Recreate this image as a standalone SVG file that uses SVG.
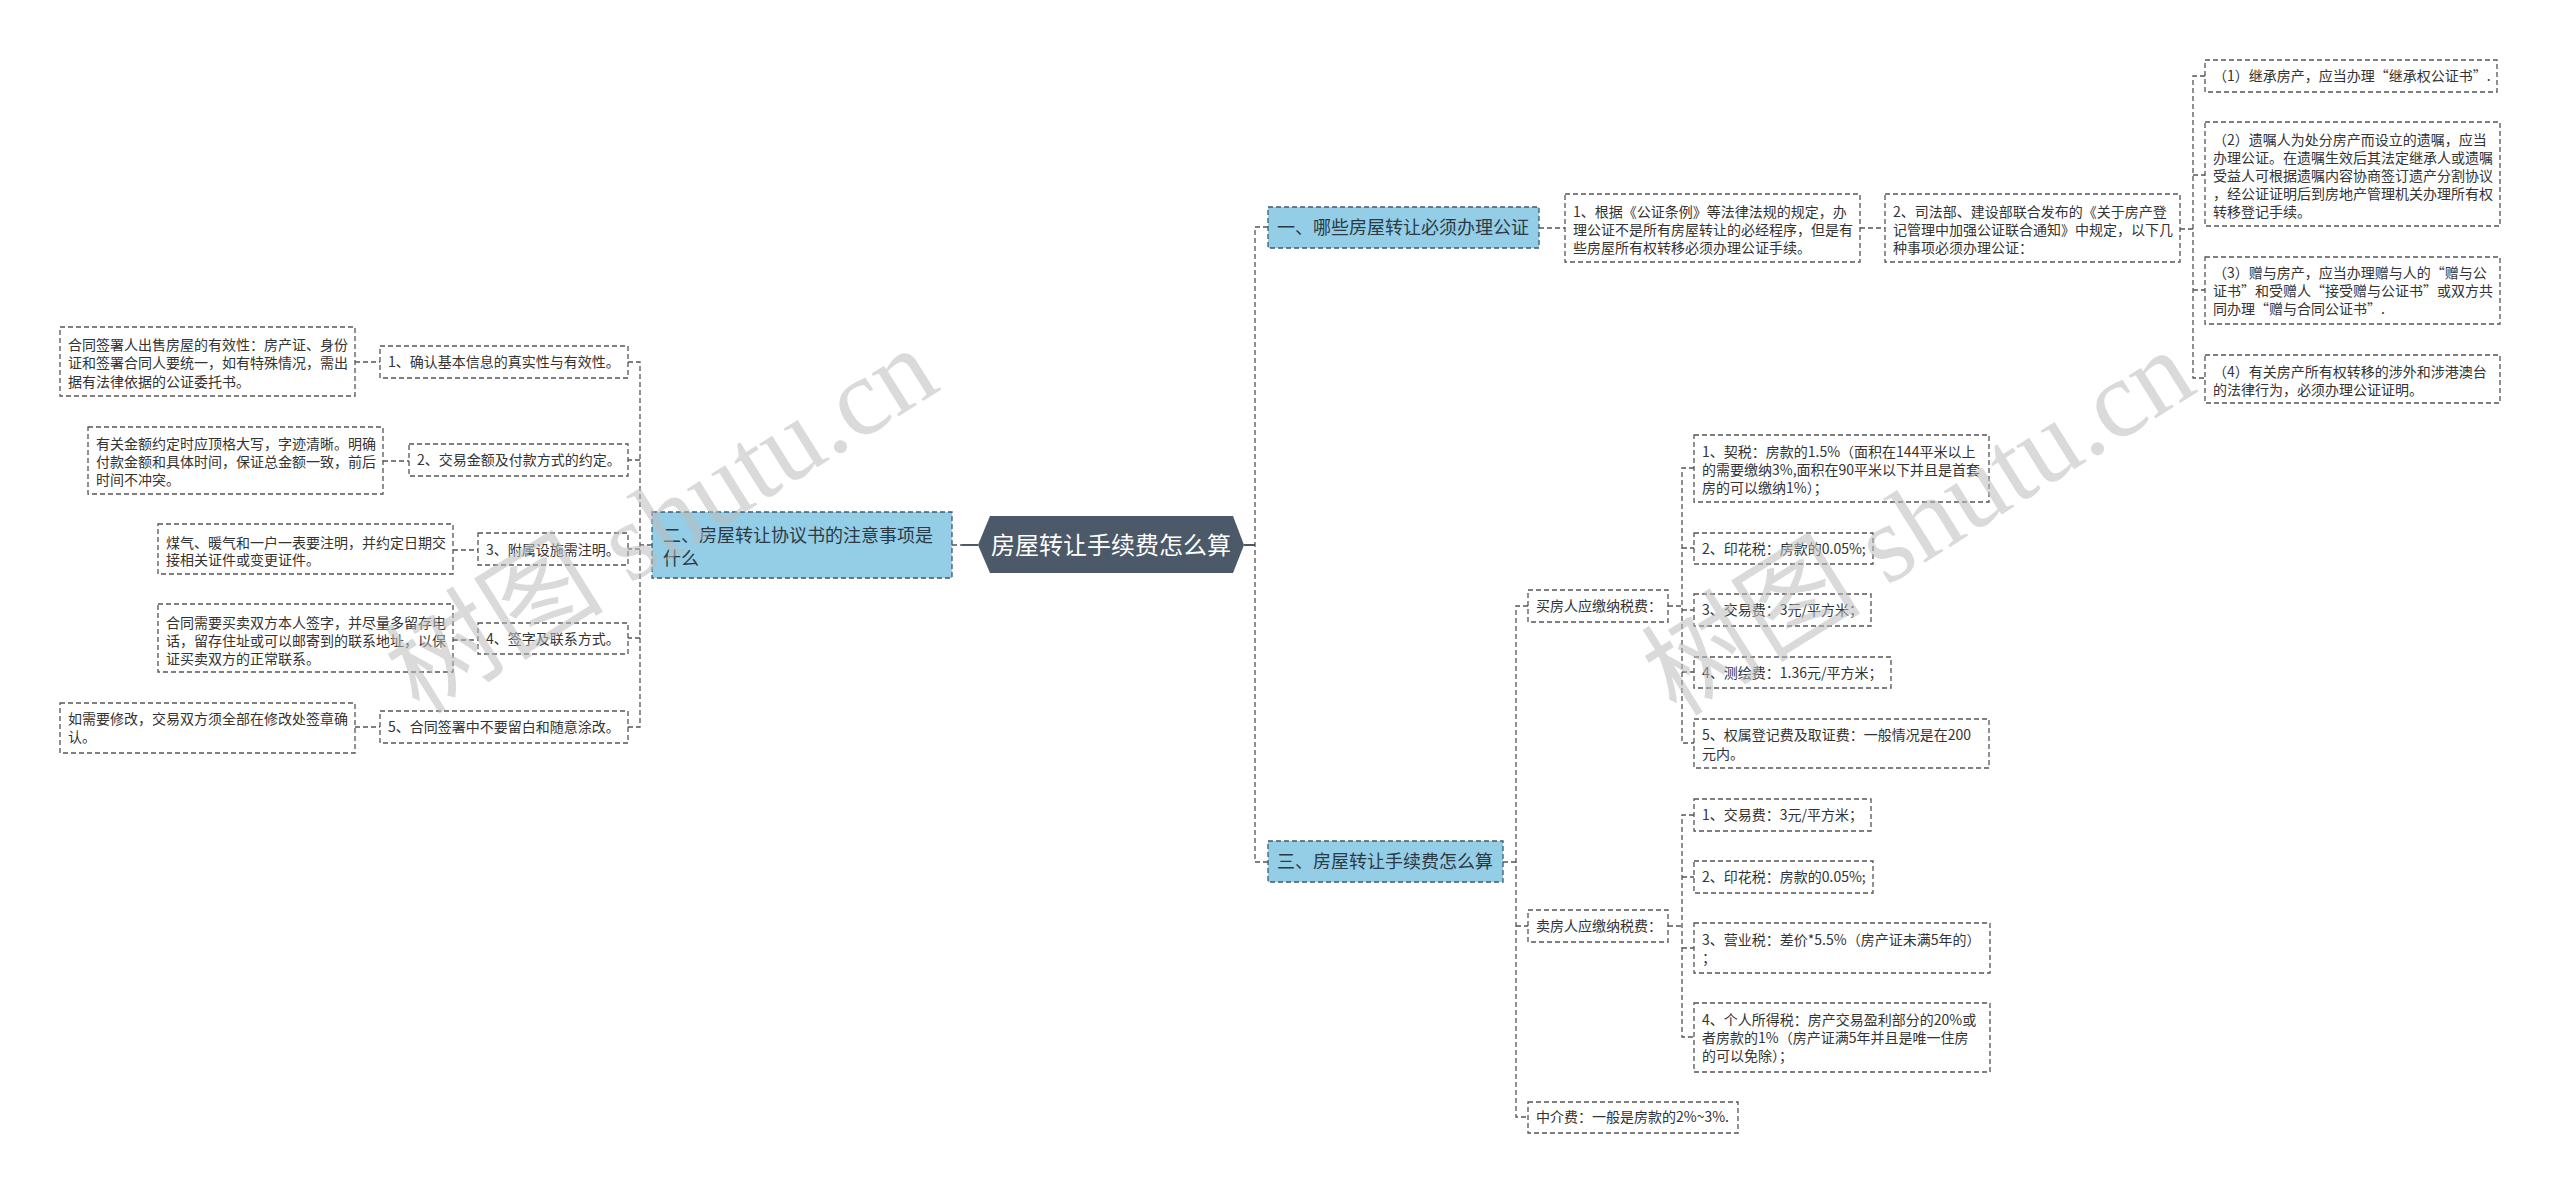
<svg xmlns="http://www.w3.org/2000/svg" width="2560" height="1194" viewBox="0 0 2560 1194">
<style>
.bx{fill:#fff;stroke:#555;stroke-width:1.3;stroke-dasharray:5 3}
.bl{fill:#94cde6;stroke:#3e5a6c;stroke-width:1.3;stroke-dasharray:5 3}
.t{font-family:"Noto Sans CJK SC","Microsoft YaHei",sans-serif;font-size:14px;fill:#333}
.tb{font-family:"Noto Sans CJK SC","Microsoft YaHei",sans-serif;font-size:18px;fill:#2b3a45}
.tr{font-family:"Noto Sans CJK SC","Microsoft YaHei",sans-serif;font-size:24px;fill:#fff}
.c{fill:none;stroke:#555;stroke-width:1.3;stroke-dasharray:5 3}
.cs{fill:none;stroke:#4b5968;stroke-width:2}
.wm{font-size:110px;fill:#bdbdbd;opacity:0.55}
</style>
<rect width="2560" height="1194" fill="#fff"/>
<g id="connectors">
  <path class="c" d="M952,545 H962"/>
  <path class="cs" d="M962,545 H978"/>
  <path class="cs" d="M1244,545 H1255"/>
  <path class="c" d="M1268,227 H1255 V862 H1268"/>
  <path class="c" d="M1539,228 H1565"/>
  <path class="c" d="M1860,228 H1885"/>
  <path class="c" d="M2180,229 H2193"/>
  <path class="c" d="M2205,76 H2193 V378 H2205 M2193,175 H2205 M2193,290 H2205"/>
  <path class="c" d="M1503,862 H1516"/>
  <path class="c" d="M1528,606 H1516 V1117 H1528 M1516,926 H1528"/>
  <path class="c" d="M1668,606 H1682"/>
  <path class="c" d="M1694,468 H1682 V743 H1694 M1682,548 H1694 M1682,610 H1694 M1682,672 H1694"/>
  <path class="c" d="M1668,926 H1682"/>
  <path class="c" d="M1694,815 H1682 V1037 H1694 M1682,877 H1694 M1682,948 H1694"/>
  <path class="c" d="M652,545 H640"/>
  <path class="c" d="M628,362 H640 V727 H628 M640,460 H628 M640,549 H628 M640,638 H628"/>
  <path class="c" d="M355,362 H380"/>
  <path class="c" d="M383,461 H409"/>
  <path class="c" d="M453,550 H478"/>
  <path class="c" d="M453,640 H478"/>
  <path class="c" d="M355,727 H380"/>
</g>
<g id="root">
  <polygon points="978,545 990,516 1233,516 1244,545 1233,573 990,573" fill="#4b5968"/>
  <text class="tr" x="1111" y="553.5" text-anchor="middle">房屋转让手续费怎么算</text>
</g>
<g id="n2">
  <rect class="bl" x="652" y="512" width="300" height="66"/>
  <text class="tb"><tspan x="663" y="541.5">二、房屋转让协议书的注意事项是</tspan><tspan x="663" y="564.5">什么</tspan></text>
</g>
<g id="a1">
  <rect class="bx" x="380" y="346" width="248" height="32"/>
  <text class="t" x="388" y="367">1、确认基本信息的真实性与有效性。</text>
</g>
<g id="a1d">
  <rect class="bx" x="60" y="327" width="295" height="69"/>
  <text class="t"><tspan x="68" y="350">合同签署人出售房屋的有效性：房产证、身份</tspan><tspan x="68" y="368.3">证和签署合同人要统一，如有特殊情况，需出</tspan><tspan x="68" y="386.7">据有法律依据的公证委托书。</tspan></text>
</g>
<g id="a2">
  <rect class="bx" x="409" y="444" width="219" height="32"/>
  <text class="t" x="417" y="465">2、交易金额及付款方式的约定。</text>
</g>
<g id="a2d">
  <rect class="bx" x="88" y="427" width="295" height="67"/>
  <text class="t"><tspan x="96" y="449">有关金额约定时应顶格大写，字迹清晰。明确</tspan><tspan x="96" y="467">付款金额和具体时间，保证总金额一致，前后</tspan><tspan x="96" y="485">时间不冲突。</tspan></text>
</g>
<g id="a3">
  <rect class="bx" x="478" y="533" width="150" height="32"/>
  <text class="t" x="486" y="554.5">3、附属设施需注明。</text>
</g>
<g id="a3d">
  <rect class="bx" x="158" y="524" width="295" height="50"/>
  <text class="t"><tspan x="166" y="548">煤气、暖气和一户一表要注明，并约定日期交</tspan><tspan x="166" y="565">接相关证件或变更证件。</tspan></text>
</g>
<g id="a4">
  <rect class="bx" x="478" y="623" width="150" height="31"/>
  <text class="t" x="486" y="643.5">4、签字及联系方式。</text>
</g>
<g id="a4d">
  <rect class="bx" x="158" y="604" width="295" height="68"/>
  <text class="t"><tspan x="166" y="627.5">合同需要买卖双方本人签字，并尽量多留存电</tspan><tspan x="166" y="645.7">话，留存住址或可以邮寄到的联系地址，以保</tspan><tspan x="166" y="664.3">证买卖双方的正常联系。</tspan></text>
</g>
<g id="a5">
  <rect class="bx" x="380" y="711" width="248" height="32"/>
  <text class="t" x="388" y="732">5、合同签署中不要留白和随意涂改。</text>
</g>
<g id="a5d">
  <rect class="bx" x="60" y="703" width="295" height="50"/>
  <text class="t"><tspan x="68" y="723.5">如需要修改，交易双方须全部在修改处签章确</tspan><tspan x="68" y="741.7">认。</tspan></text>
</g>
<g id="n1">
  <rect class="bl" x="1268" y="207" width="271" height="41"/>
  <text class="tb" x="1277" y="234">一、哪些房屋转让必须办理公证</text>
</g>
<g id="b1">
  <rect class="bx" x="1565" y="194" width="295" height="68"/>
  <text class="t"><tspan x="1573" y="217">1、根据《公证条例》等法律法规的规定，办</tspan><tspan x="1573" y="235">理公证不是所有房屋转让的必经程序，但是有</tspan><tspan x="1573" y="253.3">些房屋所有权转移必须办理公证手续。</tspan></text>
</g>
<g id="b2">
  <rect class="bx" x="1885" y="194" width="295" height="68"/>
  <text class="t"><tspan x="1893" y="217">2、司法部、建设部联合发布的《关于房产登</tspan><tspan x="1893" y="235">记管理中加强公证联合通知》中规定，以下几</tspan><tspan x="1893" y="253.3">种事项必须办理公证：</tspan></text>
</g>
<g id="c1">
  <rect class="bx" x="2205" y="60" width="292" height="32"/>
  <text class="t" x="2213" y="81">（1）继承房产，应当办理“继承权公证书”.</text>
</g>
<g id="c2">
  <rect class="bx" x="2205" y="122" width="295" height="104"/>
  <text class="t"><tspan x="2213" y="144.5">（2）遗嘱人为处分房产而设立的遗嘱，应当</tspan><tspan x="2213" y="162.5">办理公证。在遗嘱生效后其法定继承人或遗嘱</tspan><tspan x="2213" y="180.5">受益人可根据遗嘱内容协商签订遗产分割协议</tspan><tspan x="2213" y="198.5">，经公证证明后到房地产管理机关办理所有权</tspan><tspan x="2213" y="216.7">转移登记手续。</tspan></text>
</g>
<g id="c3">
  <rect class="bx" x="2205" y="257" width="295" height="67"/>
  <text class="t"><tspan x="2213" y="278">（3）赠与房产，应当办理赠与人的“赠与公</tspan><tspan x="2213" y="296">证书”和受赠人“接受赠与公证书”或双方共</tspan><tspan x="2213" y="313.5">同办理“赠与合同公证书”.</tspan></text>
</g>
<g id="c4">
  <rect class="bx" x="2205" y="355" width="295" height="48"/>
  <text class="t"><tspan x="2213" y="377">（4）有关房产所有权转移的涉外和涉港澳台</tspan><tspan x="2213" y="395">的法律行为，必须办理公证证明。</tspan></text>
</g>
<g id="n3">
  <rect class="bl" x="1268" y="841" width="235" height="41"/>
  <text class="tb" x="1277" y="868">三、房屋转让手续费怎么算</text>
</g>
<g id="buy">
  <rect class="bx" x="1528" y="590" width="140" height="32"/>
  <text class="t" x="1536" y="611">买房人应缴纳税费：</text>
</g>
<g id="d1">
  <rect class="bx" x="1694" y="435" width="295" height="67"/>
  <text class="t"><tspan x="1702" y="457">1、契税：房款的1.5%（面积在144平米以上</tspan><tspan x="1702" y="475">的需要缴纳3%,面积在90平米以下并且是首套</tspan><tspan x="1702" y="493">房的可以缴纳1%）；</tspan></text>
</g>
<g id="d2">
  <rect class="bx" x="1694" y="533" width="179" height="31"/>
  <text class="t" x="1702" y="553.5">2、印花税：房款的0.05%;</text>
</g>
<g id="d3">
  <rect class="bx" x="1694" y="594" width="177" height="32"/>
  <text class="t" x="1702" y="615">3、交易费：3元/平方米；</text>
</g>
<g id="d4">
  <rect class="bx" x="1694" y="657" width="197" height="31"/>
  <text class="t" x="1702" y="677.5">4、测绘费：1.36元/平方米；</text>
</g>
<g id="d5">
  <rect class="bx" x="1694" y="719" width="295" height="49"/>
  <text class="t"><tspan x="1702" y="740">5、权属登记费及取证费：一般情况是在200</tspan><tspan x="1702" y="758.5">元内。</tspan></text>
</g>
<g id="sell">
  <rect class="bx" x="1528" y="910" width="140" height="32"/>
  <text class="t" x="1536" y="931">卖房人应缴纳税费：</text>
</g>
<g id="e1">
  <rect class="bx" x="1694" y="799" width="177" height="32"/>
  <text class="t" x="1702" y="820">1、交易费：3元/平方米；</text>
</g>
<g id="e2">
  <rect class="bx" x="1694" y="861" width="179" height="32"/>
  <text class="t" x="1702" y="882">2、印花税：房款的0.05%;</text>
</g>
<g id="e3">
  <rect class="bx" x="1694" y="923" width="296" height="50"/>
  <text class="t"><tspan x="1702" y="945">3、营业税：差价*5.5%（房产证未满5年的）</tspan><tspan x="1702" y="963">；</tspan></text>
</g>
<g id="e4">
  <rect class="bx" x="1694" y="1003" width="296" height="69"/>
  <text class="t"><tspan x="1702" y="1025">4、个人所得税：房产交易盈利部分的20%或</tspan><tspan x="1702" y="1043">者房款的1%（房产证满5年并且是唯一住房</tspan><tspan x="1702" y="1061">的可以免除）；</tspan></text>
</g>
<g id="mid">
  <rect class="bx" x="1528" y="1102" width="210" height="31"/>
  <text class="t" x="1536" y="1122">中介费：一般是房款的2%~3%.</text>
</g>
<g id="watermarks">
  <text class="wm" transform="translate(661,520) rotate(-32)" text-anchor="middle" y="38"><tspan font-family="'Noto Sans CJK SC',sans-serif">树图</tspan><tspan font-family="'Liberation Serif',serif"> shutu.cn</tspan></text>
  <text class="wm" transform="translate(1918,522) rotate(-32)" text-anchor="middle" y="38"><tspan font-family="'Noto Sans CJK SC',sans-serif">树图</tspan><tspan font-family="'Liberation Serif',serif"> shutu.cn</tspan></text>
</g>
</svg>
